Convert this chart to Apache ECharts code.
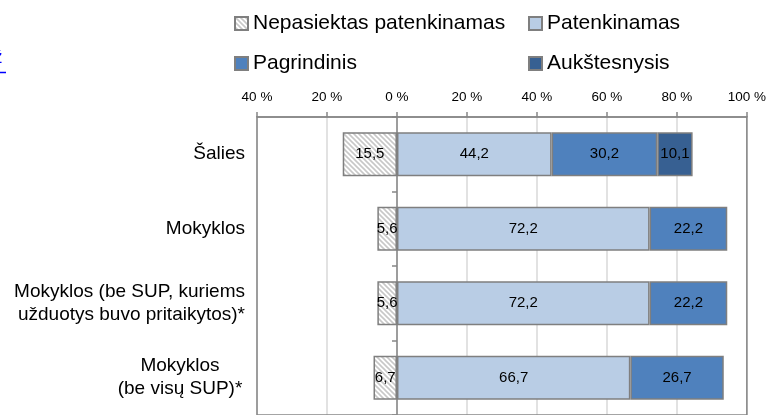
<!DOCTYPE html>
<html><head><meta charset="utf-8">
<script src="https://cdn.jsdelivr.net/npm/echarts@6/dist/echarts.min.js"></script>
<style>html,body{margin:0;padding:0;background:#fff;overflow:hidden}#c{width:769px;height:415px}</style>
</head><body><div id="c"></div>
<script>
const categories = ['Šalies', 'Mokyklos', 'Mokyklos (be SUP, kuriems\nužduotys buvo pritaikytos)*', 'Mokyklos\n(be visų SUP)*'];
const seriesNames = ['Nepasiektas patenkinamas', 'Patenkinamas', 'Pagrindinis', 'Aukštesnysis'];
const nepasiektas = [15.5, 5.6, 5.6, 6.7];
const patenkinamas = [44.2, 72.2, 72.2, 66.7];
const pagrindinis = [30.2, 22.2, 22.2, 26.7];
const aukstesnysis = [10.1, null, null, null];
const xMin = -40, xMax = 100, xStep = 20;

const F = '"Liberation Sans", Arial, sans-serif';

function hatch() {
  const s = 5;
  const c = document.createElement('canvas');
  c.width = s; c.height = s;
  const g = c.getContext('2d');
  g.fillStyle = '#ffffff'; g.fillRect(0, 0, s, s);
  g.strokeStyle = '#c8c8c8'; g.lineWidth = 1.6;
  g.beginPath();
  g.moveTo(-1, -1); g.lineTo(s + 1, s + 1);
  g.moveTo(s - 1, -1); g.lineTo(s + 1, 1);
  g.moveTo(-1, s - 1); g.lineTo(1, s + 1);
  g.stroke();
  return c;
}

const fills = [{ image: hatch(), repeat: 'repeat' }, '#B9CDE5', '#4F81BD', '#376092'];
const values = [nepasiektas.map(v => -v), patenkinamas, pagrindinis, aukstesnysis];
const fmt = p => (p.value == null ? '' : Math.abs(p.value).toFixed(1).replace('.', ','));

const legendSpots = [[234, 13], [528, 13], [234, 53], [528, 53]];

const chart = echarts.init(document.getElementById('c'), null, { renderer: 'canvas' });
chart.setOption({
  animation: false,
  backgroundColor: '#fff',
  textStyle: { fontFamily: F },
  grid: { left: 257, top: 117, width: 491, height: 302, show: true, borderColor: '#868686', borderWidth: 1.5, z: 3 },
  legend: seriesNames.map((n, i) => ({
    data: [n], left: legendSpots[i][0], top: legendSpots[i][1], padding: 0,
    itemWidth: 13, itemHeight: 13, icon: 'rect', selectedMode: false,
    textStyle: { fontSize: 21, fontFamily: F, color: '#000' }
  })),
  xAxis: {
    type: 'value', position: 'top', min: xMin, max: xMax, interval: xStep,
    axisLine: { show: true, lineStyle: { color: '#868686', width: 1.5 } },
    axisTick: { show: true, length: 5, lineStyle: { color: '#868686', width: 1.5 } },
    splitLine: { show: true, lineStyle: { color: '#d9d9d9', width: 1.5 } },
    axisLabel: { margin: 13, fontSize: 13.5, color: '#000', fontFamily: F, formatter: v => Math.abs(v) + ' %' }
  },
  yAxis: [{
    type: 'category', inverse: true, data: categories, position: 'left',
    axisLine: { show: false, onZero: false }, axisTick: { show: false },
    axisLabel: {
      margin: 12, fontSize: 19, lineHeight: 23, color: '#000', fontFamily: F, align: 'right',
      formatter: (v, i) => i === categories.length - 1 ? v.split('\n').map(s => '{c|' + s + '}').join('\n') : v,
      rich: { c: { width: 130, align: 'center', fontSize: 19, lineHeight: 23, fontFamily: F, color: '#000' } }
    }
  }, {
    type: 'category', inverse: true, data: categories, position: 'left',
    axisLine: { show: true, onZero: true, lineStyle: { color: '#868686', width: 1.5 } },
    axisTick: { show: true, length: 5, lineStyle: { color: '#868686', width: 1.5 } },
    axisLabel: { show: false }
  }],
  series: seriesNames.map((n, i) => ({
    name: n, type: 'bar', stack: 'total', yAxisIndex: 0, barWidth: 44,
    data: values[i],
    itemStyle: { color: fills[i], borderColor: '#7f7f7f', borderWidth: 1.5 },
    label: { show: true, position: 'inside', color: '#000', fontSize: 15, fontFamily: F, formatter: fmt }
  })),
  graphic: [
    { type: 'text', left: -7, top: 48, style: { text: 'ž', fill: '#0000ff', font: '19px ' + F } },
    { type: 'line', shape: { x1: 0, y1: 72.5, x2: 6, y2: 72.5 }, style: { stroke: '#0000ff', lineWidth: 1.5 } }
  ]
});
</script>
</body></html>
